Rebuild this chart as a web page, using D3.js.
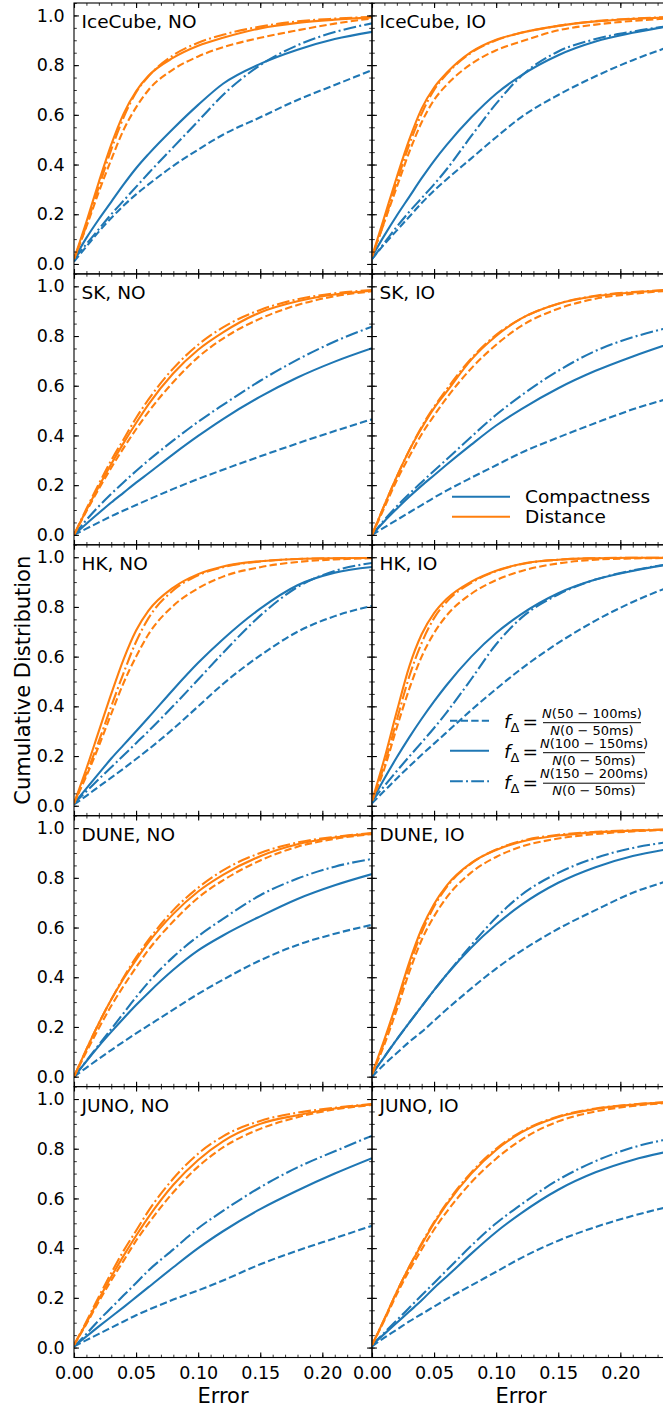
<!DOCTYPE html>
<html><head><meta charset="utf-8">
<script src="https://cdn.jsdelivr.net/npm/d3@7"></script>
<style>body{margin:0;background:#fff;}svg{display:block;font-family:"DejaVu Sans",sans-serif;}</style>
</head><body>
<svg id="chart" width="663" height="1411"></svg>
<script>
// ---- data ----
const errorGrid = [0, 0.01, 0.02, 0.03, 0.04, 0.05, 0.06, 0.08, 0.10, 0.12, 0.15, 0.18, 0.21, 0.24];
const panelTitles = ["IceCube, NO","IceCube, IO","SK, NO","SK, IO","HK, NO","HK, IO","DUNE, NO","DUNE, IO","JUNO, NO","JUNO, IO"];
const methods = ["Compactness","Distance"];
const ratioNumerators = ["N(50 \u2212 100ms)","N(100 \u2212 150ms)","N(150 \u2212 200ms)"];
const xTicks = [0, 0.05, 0.10, 0.15, 0.20];
const yTicks = [0, 0.2, 0.4, 0.6, 0.8, 1.0];
// order in each panel: compactness dashed, solid, dashdot; distance dashed, solid, dashdot
const iceCubeNO = [
 [0.01,0.07,0.13,0.185,0.235,0.28,0.32,0.395,0.46,0.52,0.59,0.66,0.72,0.78],
 [0.02,0.105,0.18,0.25,0.32,0.385,0.442,0.545,0.64,0.725,0.805,0.862,0.905,0.934],
 [0.02,0.08,0.14,0.2,0.255,0.31,0.365,0.47,0.575,0.68,0.8,0.88,0.933,0.968],
 [0.02,0.15,0.29,0.42,0.54,0.63,0.7,0.783,0.835,0.872,0.91,0.94,0.967,0.988],
 [0.02,0.17,0.33,0.48,0.605,0.695,0.757,0.83,0.878,0.91,0.948,0.97,0.983,0.992],
 [0.02,0.155,0.31,0.46,0.59,0.69,0.755,0.84,0.89,0.922,0.955,0.976,0.987,0.994]];
const iceCubeIO = [
 [0.02,0.08,0.135,0.19,0.245,0.295,0.34,0.425,0.51,0.59,0.68,0.755,0.82,0.875],
 [0.03,0.115,0.195,0.27,0.345,0.415,0.478,0.59,0.685,0.758,0.84,0.895,0.93,0.958],
 [0.02,0.085,0.15,0.21,0.265,0.32,0.38,0.515,0.645,0.755,0.855,0.905,0.935,0.958],
 [0.03,0.17,0.31,0.45,0.57,0.66,0.72,0.805,0.86,0.895,0.94,0.963,0.978,0.988],
 [0.03,0.19,0.35,0.5,0.625,0.71,0.768,0.853,0.902,0.93,0.958,0.976,0.986,0.993],
 [0.03,0.17,0.33,0.48,0.605,0.7,0.763,0.85,0.9,0.93,0.958,0.977,0.987,0.994]];
const skNO = [
 [0,0.025,0.05,0.075,0.098,0.12,0.142,0.185,0.225,0.262,0.316,0.368,0.418,0.465],
 [0,0.045,0.088,0.13,0.17,0.21,0.248,0.325,0.398,0.466,0.556,0.633,0.697,0.751],
 [0,0.06,0.115,0.165,0.212,0.257,0.3,0.38,0.455,0.523,0.62,0.705,0.778,0.838],
 [0,0.095,0.185,0.27,0.35,0.425,0.495,0.615,0.715,0.79,0.87,0.925,0.96,0.98],
 [0,0.1,0.195,0.285,0.37,0.45,0.525,0.65,0.745,0.815,0.895,0.94,0.967,0.982],
 [0,0.105,0.205,0.3,0.385,0.47,0.545,0.67,0.765,0.835,0.905,0.948,0.972,0.985]];
const skIO = [
 [0,0.03,0.06,0.09,0.12,0.15,0.178,0.23,0.28,0.33,0.392,0.45,0.505,0.55],
 [0,0.055,0.105,0.153,0.198,0.24,0.282,0.363,0.44,0.505,0.59,0.66,0.718,0.77],
 [0,0.06,0.115,0.165,0.212,0.258,0.303,0.395,0.483,0.56,0.66,0.74,0.795,0.835],
 [0,0.11,0.22,0.315,0.405,0.48,0.55,0.67,0.765,0.84,0.91,0.95,0.97,0.983],
 [0,0.12,0.235,0.34,0.43,0.51,0.575,0.705,0.8,0.87,0.93,0.96,0.975,0.985],
 [0,0.12,0.235,0.34,0.435,0.515,0.585,0.71,0.805,0.87,0.93,0.962,0.977,0.986]];
const hkNO = [
 [0.005,0.04,0.077,0.113,0.15,0.188,0.227,0.31,0.4,0.49,0.605,0.7,0.763,0.804],
 [0.01,0.07,0.13,0.19,0.245,0.3,0.355,0.468,0.575,0.67,0.793,0.887,0.938,0.961],
 [0.01,0.058,0.107,0.155,0.203,0.252,0.3,0.402,0.508,0.615,0.765,0.88,0.945,0.977],
 [0.01,0.12,0.24,0.37,0.495,0.6,0.69,0.805,0.875,0.922,0.96,0.981,0.991,0.996],
 [0.01,0.15,0.3,0.45,0.59,0.705,0.785,0.878,0.932,0.963,0.984,0.993,0.996,0.997],
 [0.01,0.13,0.26,0.4,0.535,0.66,0.755,0.867,0.927,0.96,0.983,0.993,0.996,0.997]];
const hkIO = [
 [0.01,0.06,0.11,0.158,0.205,0.25,0.295,0.385,0.47,0.55,0.655,0.745,0.82,0.882],
 [0.02,0.11,0.195,0.275,0.35,0.42,0.485,0.6,0.695,0.77,0.855,0.91,0.945,0.972],
 [0.02,0.08,0.14,0.198,0.255,0.313,0.375,0.51,0.65,0.755,0.85,0.91,0.947,0.973],
 [0.02,0.15,0.315,0.47,0.6,0.695,0.765,0.853,0.908,0.944,0.975,0.99,0.995,0.997],
 [0.02,0.19,0.38,0.56,0.69,0.775,0.832,0.902,0.946,0.973,0.99,0.996,0.998,0.998],
 [0.02,0.165,0.345,0.52,0.655,0.755,0.82,0.897,0.944,0.972,0.99,0.996,0.998,0.998]];
const duneNO = [
 [0,0.036,0.072,0.107,0.141,0.174,0.206,0.27,0.333,0.39,0.468,0.53,0.575,0.611],
 [0,0.062,0.123,0.18,0.235,0.288,0.338,0.43,0.508,0.568,0.645,0.715,0.77,0.815],
 [0,0.064,0.128,0.192,0.256,0.32,0.38,0.482,0.565,0.635,0.73,0.797,0.845,0.876],
 [0,0.1,0.195,0.285,0.365,0.44,0.51,0.625,0.72,0.79,0.87,0.925,0.957,0.976],
 [0,0.11,0.215,0.31,0.395,0.47,0.54,0.655,0.745,0.812,0.887,0.935,0.962,0.978],
 [0,0.11,0.215,0.31,0.4,0.48,0.55,0.67,0.76,0.83,0.9,0.942,0.965,0.98]];
const duneIO = [
 [0,0.05,0.095,0.14,0.18,0.225,0.27,0.355,0.435,0.505,0.595,0.67,0.74,0.79],
 [0.01,0.08,0.15,0.217,0.283,0.348,0.41,0.52,0.612,0.69,0.78,0.843,0.888,0.917],
 [0.01,0.08,0.15,0.217,0.283,0.348,0.41,0.53,0.64,0.73,0.82,0.88,0.92,0.945],
 [0.01,0.13,0.27,0.42,0.55,0.645,0.72,0.822,0.884,0.925,0.958,0.976,0.987,0.993],
 [0.01,0.15,0.3,0.46,0.595,0.695,0.768,0.86,0.912,0.945,0.97,0.983,0.99,0.994],
 [0.01,0.14,0.29,0.445,0.58,0.685,0.762,0.858,0.914,0.948,0.973,0.985,0.991,0.995]];
const junoNO = [
 [0.005,0.03,0.055,0.08,0.105,0.13,0.152,0.193,0.23,0.27,0.335,0.39,0.44,0.49],
 [0.005,0.045,0.085,0.124,0.163,0.203,0.243,0.323,0.4,0.468,0.557,0.632,0.7,0.762],
 [0.005,0.055,0.11,0.16,0.21,0.26,0.31,0.395,0.48,0.55,0.645,0.725,0.79,0.852],
 [0.01,0.095,0.185,0.27,0.35,0.43,0.5,0.625,0.728,0.805,0.88,0.927,0.958,0.976],
 [0.01,0.1,0.195,0.285,0.37,0.45,0.525,0.655,0.755,0.83,0.9,0.935,0.962,0.978],
 [0.01,0.105,0.205,0.3,0.39,0.47,0.55,0.68,0.78,0.85,0.912,0.945,0.965,0.98]];
const junoIO = [
 [0.005,0.04,0.072,0.105,0.135,0.165,0.195,0.25,0.305,0.36,0.43,0.485,0.53,0.568],
 [0.01,0.055,0.1,0.145,0.19,0.24,0.285,0.378,0.465,0.54,0.635,0.705,0.755,0.79],
 [0.01,0.06,0.11,0.16,0.21,0.26,0.31,0.41,0.5,0.575,0.675,0.75,0.805,0.84],
 [0.01,0.11,0.215,0.31,0.395,0.475,0.545,0.665,0.76,0.835,0.91,0.95,0.972,0.985],
 [0.01,0.115,0.225,0.325,0.415,0.5,0.575,0.7,0.795,0.865,0.928,0.96,0.977,0.987],
 [0.01,0.115,0.225,0.325,0.42,0.505,0.58,0.705,0.8,0.868,0.93,0.962,0.978,0.988]];
const panelData = [iceCubeNO, iceCubeIO, skNO, skIO, hkNO, hkIO, duneNO, duneIO, junoNO, junoIO];

// ---- layout / style ----
const BLUE = "#1f77b4", ORANGE = "#ff7f0e";
const dashStyles = ["7.4,3.2", null, "12.8,3.2,2,3.2"];
const L0 = 74, PW = 298, T0 = 3, PH = 270.9;
const TICKF = 17.5, TITLEF = 18.5, LABF = 21;

const svg = d3.select("#chart");
const x = d3.scaleLinear().domain([0, 0.24]).range([0, PW]);
const y = d3.scaleLinear().domain([-0.04, 1.05]).range([PH, 0]);
const line = d3.line().x((d, j) => x(errorGrid[j])).y(d => y(d)).curve(d3.curveMonotoneX);

const xMinor = d3.range(0, 0.2401, 0.01);
const yMinor = d3.range(0, 1.0501, 0.05);

panelData.forEach((series, p) => {
  const col = p % 2, row = Math.floor(p / 2);
  const g = svg.append("g").attr("transform", `translate(${L0 + col * PW},${T0 + row * PH})`);
  const cid = "clip" + p;
  g.append("clipPath").attr("id", cid).append("rect").attr("width", PW).attr("height", PH);
  const lg = g.append("g").attr("clip-path", `url(#${cid})`);
  series.forEach((vals, i) => {
    lg.append("path").datum(vals)
      .attr("d", line)
      .attr("fill", "none")
      .attr("stroke", i < 3 ? BLUE : ORANGE)
      .attr("stroke-width", 2.1)
      .attr("stroke-dasharray", dashStyles[i % 3])
      .attr("stroke-linejoin", "round");
  });
  g.append("text").attr("x", 7.5).attr("y", 25).attr("font-size", TITLEF).attr("fill", "#000").text(panelTitles[p]);

  const mk = (axisFn, ticks, size, fmt) => axisFn.tickValues(ticks).tickSize(-size).tickSizeOuter(0).tickPadding(size + 4.5).tickFormat(fmt);
  const showX = row === 4, showY = col === 0;
  const addAxis = (ax, tr, w) => {
    const a = g.append("g").attr("transform", tr).call(ax);
    a.select(".domain").remove();
    a.selectAll("line").attr("stroke", "#000").attr("stroke-width", w);
    a.selectAll("text").attr("font-size", TICKF).attr("fill", "#000").attr("font-family", "DejaVu Sans");
    return a;
  };
  const fmtX = showX ? d3.format(".2f") : () => "";
  const fmtY = showY ? d3.format(".1f") : () => "";
  const none = () => "";
  addAxis(mk(d3.axisBottom(x), xTicks, 4.9, fmtX), `translate(0,${PH})`, 1.1);
  addAxis(mk(d3.axisBottom(x), xMinor, 2.8, none), `translate(0,${PH})`, 0.8);
  addAxis(mk(d3.axisTop(x), xTicks, 4.9, none), `translate(0,0)`, 1.1);
  addAxis(mk(d3.axisTop(x), xMinor, 2.8, none), `translate(0,0)`, 0.8);
  addAxis(mk(d3.axisLeft(y), yTicks, 4.9, fmtY), `translate(0,0)`, 1.1);
  addAxis(mk(d3.axisLeft(y), yMinor, 2.8, none), `translate(0,0)`, 0.8);
  addAxis(mk(d3.axisRight(y), yTicks, 4.9, none), `translate(${PW},0)`, 1.1);
  addAxis(mk(d3.axisRight(y), yMinor, 2.8, none), `translate(${PW},0)`, 0.8);
  g.append("rect").attr("width", PW).attr("height", PH).attr("fill", "none").attr("stroke", "#000").attr("stroke-width", 1.1);
  if (showX) {
    g.append("text").attr("x", PW / 2).attr("y", PH + 46).attr("text-anchor", "middle").attr("font-size", LABF).text("Error");
  }
});

svg.append("text").attr("transform", `translate(30,${T0 + 2.5 * PH}) rotate(-90)`)
  .attr("text-anchor", "middle").attr("font-size", LABF).text("Cumulative Distribution");

// legend 1 (methods) in SK, IO panel
const leg1 = svg.append("g");
methods.forEach((m, i) => {
  const yy = 496.7 + i * 20;
  leg1.append("line").attr("x1", 452).attr("x2", 510).attr("y1", yy).attr("y2", yy)
    .attr("stroke", i === 0 ? BLUE : ORANGE).attr("stroke-width", 2.1);
  leg1.append("text").attr("x", 525).attr("y", yy + 6.6).attr("font-size", TITLEF).text(m);
});

// legend 2 (ratio definitions) in HK, IO panel
const leg2 = svg.append("g");
ratioNumerators.forEach((num, i) => {
  const yy = [720.7, 750.7, 781.2][i];
  leg2.append("line").attr("x1", 450).attr("x2", 489).attr("y1", yy).attr("y2", yy)
    .attr("stroke", BLUE).attr("stroke-width", 2.1).attr("stroke-dasharray", dashStyles[i]);
  const t = leg2.append("text").attr("x", 504).attr("y", yy + 7.5).attr("font-size", TITLEF);
  t.append("tspan").attr("font-style", "italic").text("f");
  t.append("tspan").attr("font-size", 13).attr("dy", 4).text("\u0394");
  t.append("tspan").attr("dy", -4).attr("dx", 3).text("=");
  const cx = i === 0 ? 592 : 594;
  const halfW = i === 0 ? 49 : 51;
  leg2.append("line").attr("x1", cx - halfW).attr("x2", cx + halfW).attr("y1", yy + 2).attr("y2", yy + 2)
    .attr("stroke", "#000").attr("stroke-width", 1);
  const nt = leg2.append("text").attr("x", cx).attr("y", yy - 3).attr("text-anchor", "middle").attr("font-size", 13);
  nt.append("tspan").attr("font-style", "italic").text("N");
  nt.append("tspan").text(num.slice(1));
  const dt = leg2.append("text").attr("x", cx).attr("y", yy + 14).attr("text-anchor", "middle").attr("font-size", 13);
  dt.append("tspan").attr("font-style", "italic").text("N");
  dt.append("tspan").text("(0 \u2212 50ms)");
});
</script>
</body></html>
